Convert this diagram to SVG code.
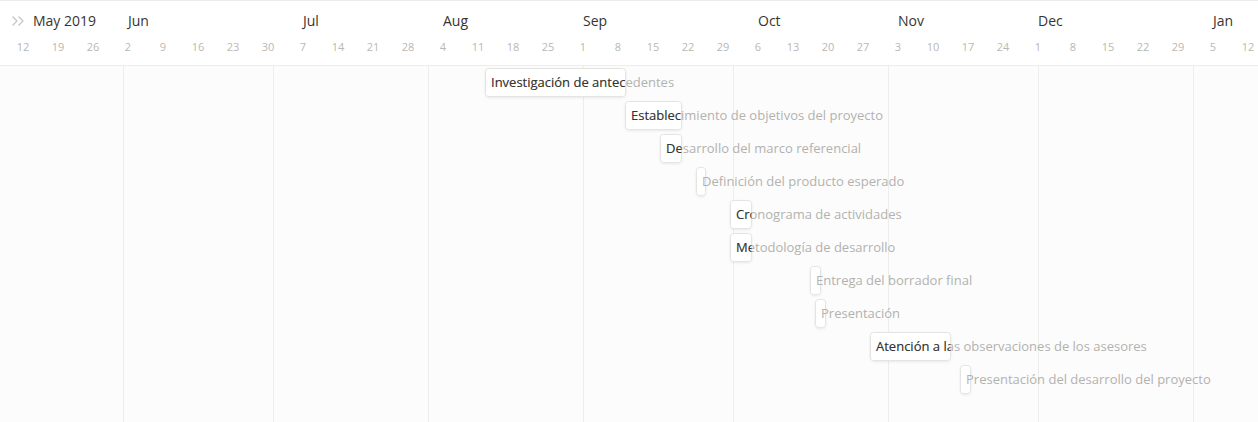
<svg xmlns="http://www.w3.org/2000/svg" width="1258" height="422" viewBox="0 0 1258 422">
<style>
.month{font-family:"Open Sans","Noto Sans",sans-serif;font-size:14px;fill:#37352f}
.day{font-family:"Open Sans","Noto Sans",sans-serif;font-size:11px;fill:#b9b8b5;text-anchor:middle}
.grid{stroke:#ededec;stroke-width:1}
.bar{fill:#ffffff;stroke:#e4e4e3;stroke-width:1}
.lbl{font-family:"Open Sans","Noto Sans",sans-serif;font-size:13px}
.out{fill:#b3b2af}
.in{fill:#37352f}
</style>
<defs>
<filter id="sh" x="-20%" y="-20%" width="140%" height="160%">
<feDropShadow dx="0" dy="1" stdDeviation="1" flood-color="#000" flood-opacity="0.08"/>
</filter>
<clipPath id="c1"><rect x="485.5" y="68.5" width="140" height="28"/></clipPath>
<clipPath id="c2"><rect x="625.5" y="101.5" width="56" height="28"/></clipPath>
<clipPath id="c3"><rect x="660.5" y="134.5" width="21" height="28"/></clipPath>
<clipPath id="c5"><rect x="730.5" y="200.5" width="21" height="28"/></clipPath>
<clipPath id="c6"><rect x="730.5" y="233.5" width="21" height="28"/></clipPath>
<clipPath id="c9"><rect x="870.5" y="332.5" width="80" height="28"/></clipPath>
</defs>
<rect x="0" y="0" width="1258" height="422" fill="#fcfcfc"/>
<g id="header">
<rect x="0" y="0" width="1258" height="65" fill="#ffffff"/>
<line x1="0" y1="0.5" x2="1258" y2="0.5" stroke="#ededec"/>
<line x1="0" y1="65.5" x2="1258" y2="65.5" stroke="#ededec"/>
<path d="M12.5,16.5 L17,21 L12.5,25.5 M18.5,16.5 L23,21 L18.5,25.5" fill="none" stroke="#c4c3c0" stroke-width="1.2"/>
<text class="month" x="33" y="26">May 2019</text>
<text class="month" x="128" y="26">Jun</text>
<text class="month" x="303" y="26">Jul</text>
<text class="month" x="443" y="26">Aug</text>
<text class="month" x="583" y="26">Sep</text>
<text class="month" x="758" y="26">Oct</text>
<text class="month" x="898" y="26">Nov</text>
<text class="month" x="1038" y="26">Dec</text>
<text class="month" x="1213" y="26">Jan</text>
<text class="day" x="23" y="51">12</text>
<text class="day" x="58" y="51">19</text>
<text class="day" x="93" y="51">26</text>
<text class="day" x="128" y="51">2</text>
<text class="day" x="163" y="51">9</text>
<text class="day" x="198" y="51">16</text>
<text class="day" x="233" y="51">23</text>
<text class="day" x="268" y="51">30</text>
<text class="day" x="303" y="51">7</text>
<text class="day" x="338" y="51">14</text>
<text class="day" x="373" y="51">21</text>
<text class="day" x="408" y="51">28</text>
<text class="day" x="443" y="51">4</text>
<text class="day" x="478" y="51">11</text>
<text class="day" x="513" y="51">18</text>
<text class="day" x="548" y="51">25</text>
<text class="day" x="583" y="51">1</text>
<text class="day" x="618" y="51">8</text>
<text class="day" x="653" y="51">15</text>
<text class="day" x="688" y="51">22</text>
<text class="day" x="723" y="51">29</text>
<text class="day" x="758" y="51">6</text>
<text class="day" x="793" y="51">13</text>
<text class="day" x="828" y="51">20</text>
<text class="day" x="863" y="51">27</text>
<text class="day" x="898" y="51">3</text>
<text class="day" x="933" y="51">10</text>
<text class="day" x="968" y="51">17</text>
<text class="day" x="1003" y="51">24</text>
<text class="day" x="1038" y="51">1</text>
<text class="day" x="1073" y="51">8</text>
<text class="day" x="1108" y="51">15</text>
<text class="day" x="1143" y="51">22</text>
<text class="day" x="1178" y="51">29</text>
<text class="day" x="1213" y="51">5</text>
<text class="day" x="1248" y="51">12</text>
</g>
<g id="gridlines">
<line class="grid" x1="123.5" y1="66" x2="123.5" y2="422"/>
<line class="grid" x1="273.5" y1="66" x2="273.5" y2="422"/>
<line class="grid" x1="428.5" y1="66" x2="428.5" y2="422"/>
<line class="grid" x1="583.5" y1="66" x2="583.5" y2="422"/>
<line class="grid" x1="733.5" y1="66" x2="733.5" y2="422"/>
<line class="grid" x1="888.5" y1="66" x2="888.5" y2="422"/>
<line class="grid" x1="1038.5" y1="66" x2="1038.5" y2="422"/>
<line class="grid" x1="1193.5" y1="66" x2="1193.5" y2="422"/>
</g>
<g id="connectors"></g>
<g id="task1">
<rect class="bar" filter="url(#sh)" x="485.5" y="68.5" width="140" height="28" rx="3"/>
<text class="lbl out" x="491" y="87">Investigación de antecedentes</text>
<text class="lbl in" x="491" y="87" clip-path="url(#c1)">Investigación de antecedentes</text>
</g>
<g id="task2">
<rect class="bar" filter="url(#sh)" x="625.5" y="101.5" width="56" height="28" rx="3"/>
<text class="lbl out" x="631" y="120">Establecimiento de objetivos del proyecto</text>
<text class="lbl in" x="631" y="120" clip-path="url(#c2)">Establecimiento de objetivos del proyecto</text>
</g>
<g id="task3">
<rect class="bar" filter="url(#sh)" x="660.5" y="134.5" width="21" height="28" rx="3"/>
<text class="lbl out" x="666" y="153">Desarrollo del marco referencial</text>
<text class="lbl in" x="666" y="153" clip-path="url(#c3)">Desarrollo del marco referencial</text>
</g>
<g id="task4">
<rect class="bar" filter="url(#sh)" x="696.5" y="167.5" width="9" height="28" rx="3"/>
<text class="lbl out" x="702" y="186">Definición del producto esperado</text>
</g>
<g id="task5">
<rect class="bar" filter="url(#sh)" x="730.5" y="200.5" width="21" height="28" rx="3"/>
<text class="lbl out" x="736" y="219">Cronograma de actividades</text>
<text class="lbl in" x="736" y="219" clip-path="url(#c5)">Cronograma de actividades</text>
</g>
<g id="task6">
<rect class="bar" filter="url(#sh)" x="730.5" y="233.5" width="21" height="28" rx="3"/>
<text class="lbl out" x="736" y="252">Metodología de desarrollo</text>
<text class="lbl in" x="736" y="252" clip-path="url(#c6)">Metodología de desarrollo</text>
</g>
<g id="task7">
<rect class="bar" filter="url(#sh)" x="810.5" y="266.5" width="10" height="28" rx="3"/>
<text class="lbl out" x="816" y="285">Entrega del borrador final</text>
</g>
<g id="task8">
<rect class="bar" filter="url(#sh)" x="815.5" y="299.5" width="10" height="28" rx="3"/>
<text class="lbl out" x="821" y="318">Presentación</text>
</g>
<g id="task9">
<rect class="bar" filter="url(#sh)" x="870.5" y="332.5" width="80" height="28" rx="3"/>
<text class="lbl out" x="876" y="351">Atención a las observaciones de los asesores</text>
<text class="lbl in" x="876" y="351" clip-path="url(#c9)">Atención a las observaciones de los asesores</text>
</g>
<g id="task10">
<rect class="bar" filter="url(#sh)" x="960.5" y="365.5" width="10" height="28" rx="3"/>
<text class="lbl out" x="966" y="384">Presentación del desarrollo del proyecto</text>
</g>
</svg>
